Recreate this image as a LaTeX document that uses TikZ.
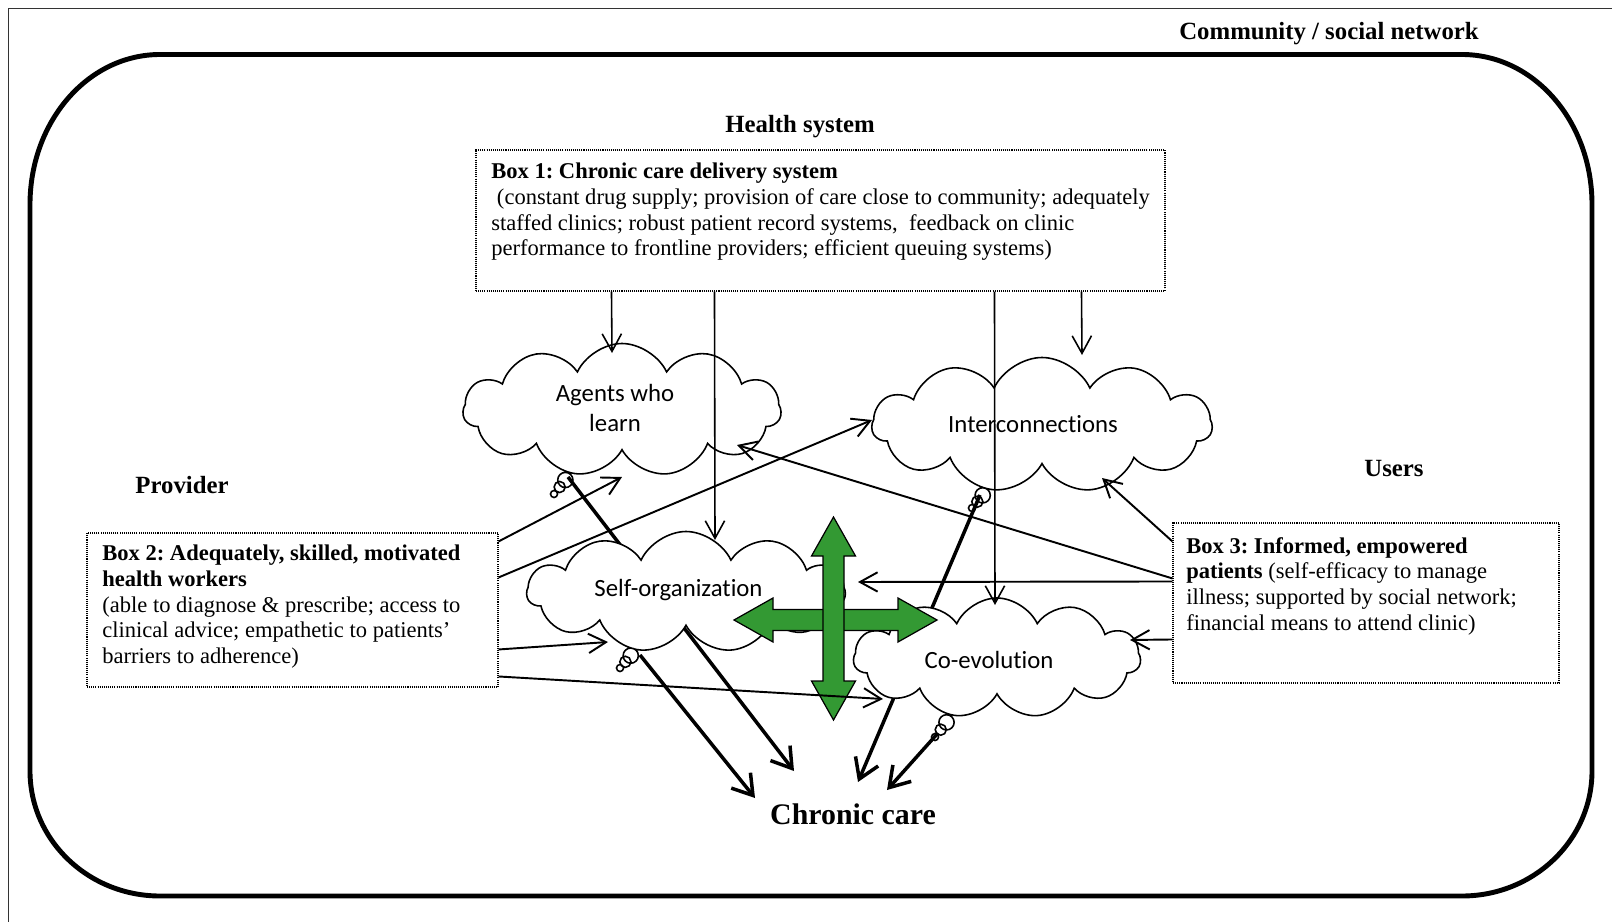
\documentclass[tikz,border=0pt]{standalone}
\usepackage{fontspec}
\setmainfont{Liberation Serif}
\newfontfamily\cloudfont[Ligatures=NoCommon]{Carlito}
\usetikzlibrary{arrows.meta,calc,shapes.symbols,shapes.callouts}
\definecolor{crossgreen}{RGB}{51,153,51}
\frenchspacing

\begin{document}
\begin{tikzpicture}[x=0.02cm,y=-0.02cm,
  heading/.style={font=\fontsize{14.1}{16}\selectfont\bfseries, inner sep=0},
  boxtext/.style={font=\fontsize{12.83}{14.57}\selectfont, align=left, anchor=north west, inner sep=0},
  dotbox/.style={draw, line width=0.6pt, dash pattern=on 0.6pt off 0.6pt, inner sep=0},
  puff/.style={cloud callout, cloud puffs=11, cloud puff arc=130, cloud ignores aspect,
    draw, fill=white, line width=0.9pt, inner sep=0,
    callout pointer segments=3, callout pointer start size=11pt, callout pointer end size=4pt},
  puffText/.style={font=\cloudfont\fontsize{14.1}{17.5}\selectfont, align=center, inner sep=0},
  feed/.style={-{Straight Barb[length=10pt,width=11pt]}, line width=0.9pt},
  link/.style={-{Straight Barb[length=10pt,width=11pt]}, line width=1.1pt},
  outcome/.style={-{Straight Barb[length=11pt,width=14pt]}, line width=2pt},
  cross/.style={draw, fill=crossgreen, line width=0.7pt, line join=miter}
]
\useasboundingbox (0,0) rectangle (1612,922);

% outer frame
\draw[line width=1.1pt, black!80] (8.5,922) -- (8.5,8.5) -- (1612,8.5);

% community boundary (rounded rectangle)
\draw[line width=2.8pt]
  (160,54.5) -- (1462,54.5)
  .. controls (1533.8,54.5) and (1592,121.3) .. (1592,204.5)
  -- (1592,771)
  .. controls (1592,840) and (1533.8,896) .. (1462,896)
  -- (160,896)
  .. controls (88.2,896) and (30,840) .. (30,771)
  -- (30,204.5)
  .. controls (30,121.3) and (88.2,54.5) .. (160,54.5) -- cycle;

% headings
\node[heading] (community) at (1329,34) {Community / social network};
\node[heading] (health) at (800,127) {Health system};
\node[heading] (provider) at (182,485) {Provider};
\node[heading] (users) at (1394,469) {Users};
\node[heading, font=\fontsize{17}{20}\selectfont\bfseries] (chronic) at (853,814) {Chronic care};

% boxes
\node[dotbox, minimum width={689*0.02cm}, minimum height={141*0.02cm}] (box1) at (820.5,220.5) {};
\node[boxtext] (box1text) at (491,163) {\textbf{Box 1: Chronic care delivery system}\\
\hspace*{0.25em}(constant drug supply; provision of care close to community; adequately\\
staffed clinics; robust patient record systems,\ \ feedback on clinic\\
performance to frontline providers; efficient queuing systems)};

\node[dotbox, minimum width={411*0.02cm}, minimum height={154*0.02cm}] (box2) at (292.5,610) {};
\node[boxtext] (box2text) at (102,545) {\textbf{Box 2: Adequately, skilled, motivated}\\
\textbf{health workers}\\
(able to diagnose \& prescribe; access to\\
clinical advice; empathetic to patients’\\
barriers to adherence)};

\node[dotbox, minimum width={386*0.02cm}, minimum height={160*0.02cm}] (box3) at (1366,603) {};
\node[boxtext] (box3text) at (1186,537) {\textbf{Box 3: Informed, empowered}\\
\textbf{patients} (self-efficacy to manage\\
illness; supported by social network;\\
financial means to attend clinic)};

% connector end points
\coordinate (agentsOut) at (568,477);
\coordinate (interOut) at (980,495);
\coordinate (selfOut) at (640,655);
\coordinate (coevoOut) at (938,733);
\coordinate (ccA) at (794,771);
\coordinate (ccS) at (755,798);
\coordinate (ccI) at (858,782);
\coordinate (ccC) at (887,790);

% upper clouds
\node[puff, minimum width={318*0.02cm}, minimum height={133*0.02cm},
  callout absolute pointer={(554,494)}] (agents) at (622,410) {};
\node[puffText] (agentsLabel) at (615,408) {Agents who\\learn};
\node[puff, minimum width={340*0.02cm}, minimum height={135*0.02cm},
  callout absolute pointer={(972,508)}] (inter) at (1042,425) {};
\node[puffText] (interLabel) at (1033,424) {Interconnections};

\draw[outcome] (agentsOut) -- (ccA);
\draw[outcome] (interOut) -- (ccI);

% lower clouds
\node[puff, minimum width={318*0.02cm}, minimum height={121*0.02cm},
  callout absolute pointer={(620,668)}] (selforg) at (686,592) {};
\node[puffText] (selforgLabel) at (678.5,590) {Self-organization};
\node[puff, minimum width={287*0.02cm}, minimum height={120*0.02cm},
  callout absolute pointer={(935,737)}] (coevo) at (997,658) {};
\node[puffText] (coevoLabel) at (989,660) {Co-evolution};

\draw[outcome] (selfOut) -- (ccS);
\draw[outcome] (coevoOut) -- (ccC);

% green four-way arrow
\draw[cross] (734,620) -- (773,598) -- (773,609.5) -- (898,609.5) -- (898,598) -- (937,620)
  -- (898,642) -- (898,630.5) -- (773,630.5) -- (773,642) -- cycle;
\draw[cross] (833.5,517) -- (855.5,556) -- (844,556) -- (844,681) -- (855.5,681) -- (833.5,720)
  -- (811.5,681) -- (823,681) -- (823,556) -- (811.5,556) -- cycle;

% health system inputs
\draw[feed] ($(box1.south west)+(136,0)$) -- (612,353);
\draw[feed] ($(box1.south west)+(239,0)$) -- (715,540);
\draw[feed] ($(box1.south west)+(519,0)$) -- (995,605);
\draw[feed] ($(box1.south west)+(606,0)$) -- (1082,355);

% provider inputs
\draw[link] ($(box2.north east)+(0,9)$) -- (622,477);
\draw[link] ($(box2.north east)+(0,45)$) -- (872,420);
\draw[link] ($(box2.north east)+(0,117)$) -- (608,642);
\draw[link] ($(box2.north east)+(0,144)$) -- (883,699);

% user inputs
\draw[link] ($(box3.north west)+(0,19)$) -- (1102,478);
\draw[link] ($(box3.north west)+(0,56)$) -- (737,445);
\draw[link] ($(box3.north west)+(0,59)$) -- (858,582);
\draw[link] ($(box3.north west)+(0,117)$) -- (1130,640);
\end{tikzpicture}
\end{document}
